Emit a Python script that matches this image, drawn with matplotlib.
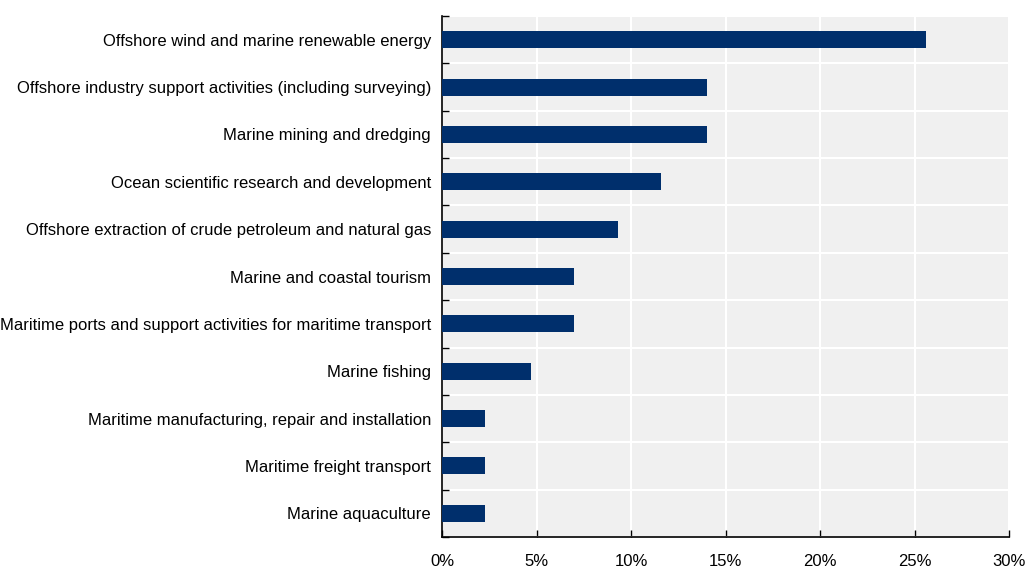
import numpy as np
import matplotlib
matplotlib.use("Agg")
import matplotlib.pyplot as plt
from matplotlib.ticker import FuncFormatter

plt.rcParams['font.family'] = ['Liberation Sans', 'DejaVu Sans']

# data, top to bottom
categories = [
    "Offshore wind and marine renewable energy",
    "Offshore industry support activities (including surveying)",
    "Marine mining and dredging",
    "Ocean scientific research and development",
    "Offshore extraction of crude petroleum and natural gas",
    "Marine and coastal tourism",
    "Maritime ports and support activities for maritime transport",
    "Marine fishing",
    "Maritime manufacturing, repair and installation",
    "Maritime freight transport",
    "Marine aquaculture",
]
shares = [25.6, 14.0, 14.0, 11.6, 9.3, 7.0, 7.0, 4.7, 2.3, 2.3, 2.3]
xticks = [0, 5, 10, 15, 20, 25, 30]

n = len(categories)
y = np.arange(n)

fig = plt.figure(figsize=(10.25, 5.7), dpi=100)
ax = fig.add_axes([442 / 1025, 1 - 537 / 570, 567 / 1025, 521 / 570])
ax.set_facecolor('#F0F0F0')

ax.barh(y, shares, height=0.36, color='#002F6C', zorder=3)

ax.set_ylim(n - 0.5, -0.5)
ax.set_xlim(0, 30)
ax.set_yticks(y)
ax.set_yticklabels(categories, fontsize=12)
ax.set_yticks(np.arange(n + 1) - 0.5, minor=True)
ax.set_xticks(xticks)
ax.xaxis.set_major_formatter(FuncFormatter(lambda v, p: f"{v:.0f}%"))
ax.tick_params(axis='x', labelsize=12, direction='in', length=5, width=1, pad=12)
ax.tick_params(axis='y', which='major', length=0, pad=8)
ax.tick_params(axis='y', which='minor', direction='in', length=5, width=1)

ax.grid(axis='x', color='white', linewidth=1.5, zorder=1)
ax.grid(axis='y', which='minor', color='white', linewidth=1.5, zorder=1)
ax.set_axisbelow(True)

for s in ['top', 'right']:
    ax.spines[s].set_visible(False)
for s in ['left', 'bottom']:
    ax.spines[s].set_color('black')
    ax.spines[s].set_linewidth(1.2)

fig.savefig('out.png', dpi=100)
